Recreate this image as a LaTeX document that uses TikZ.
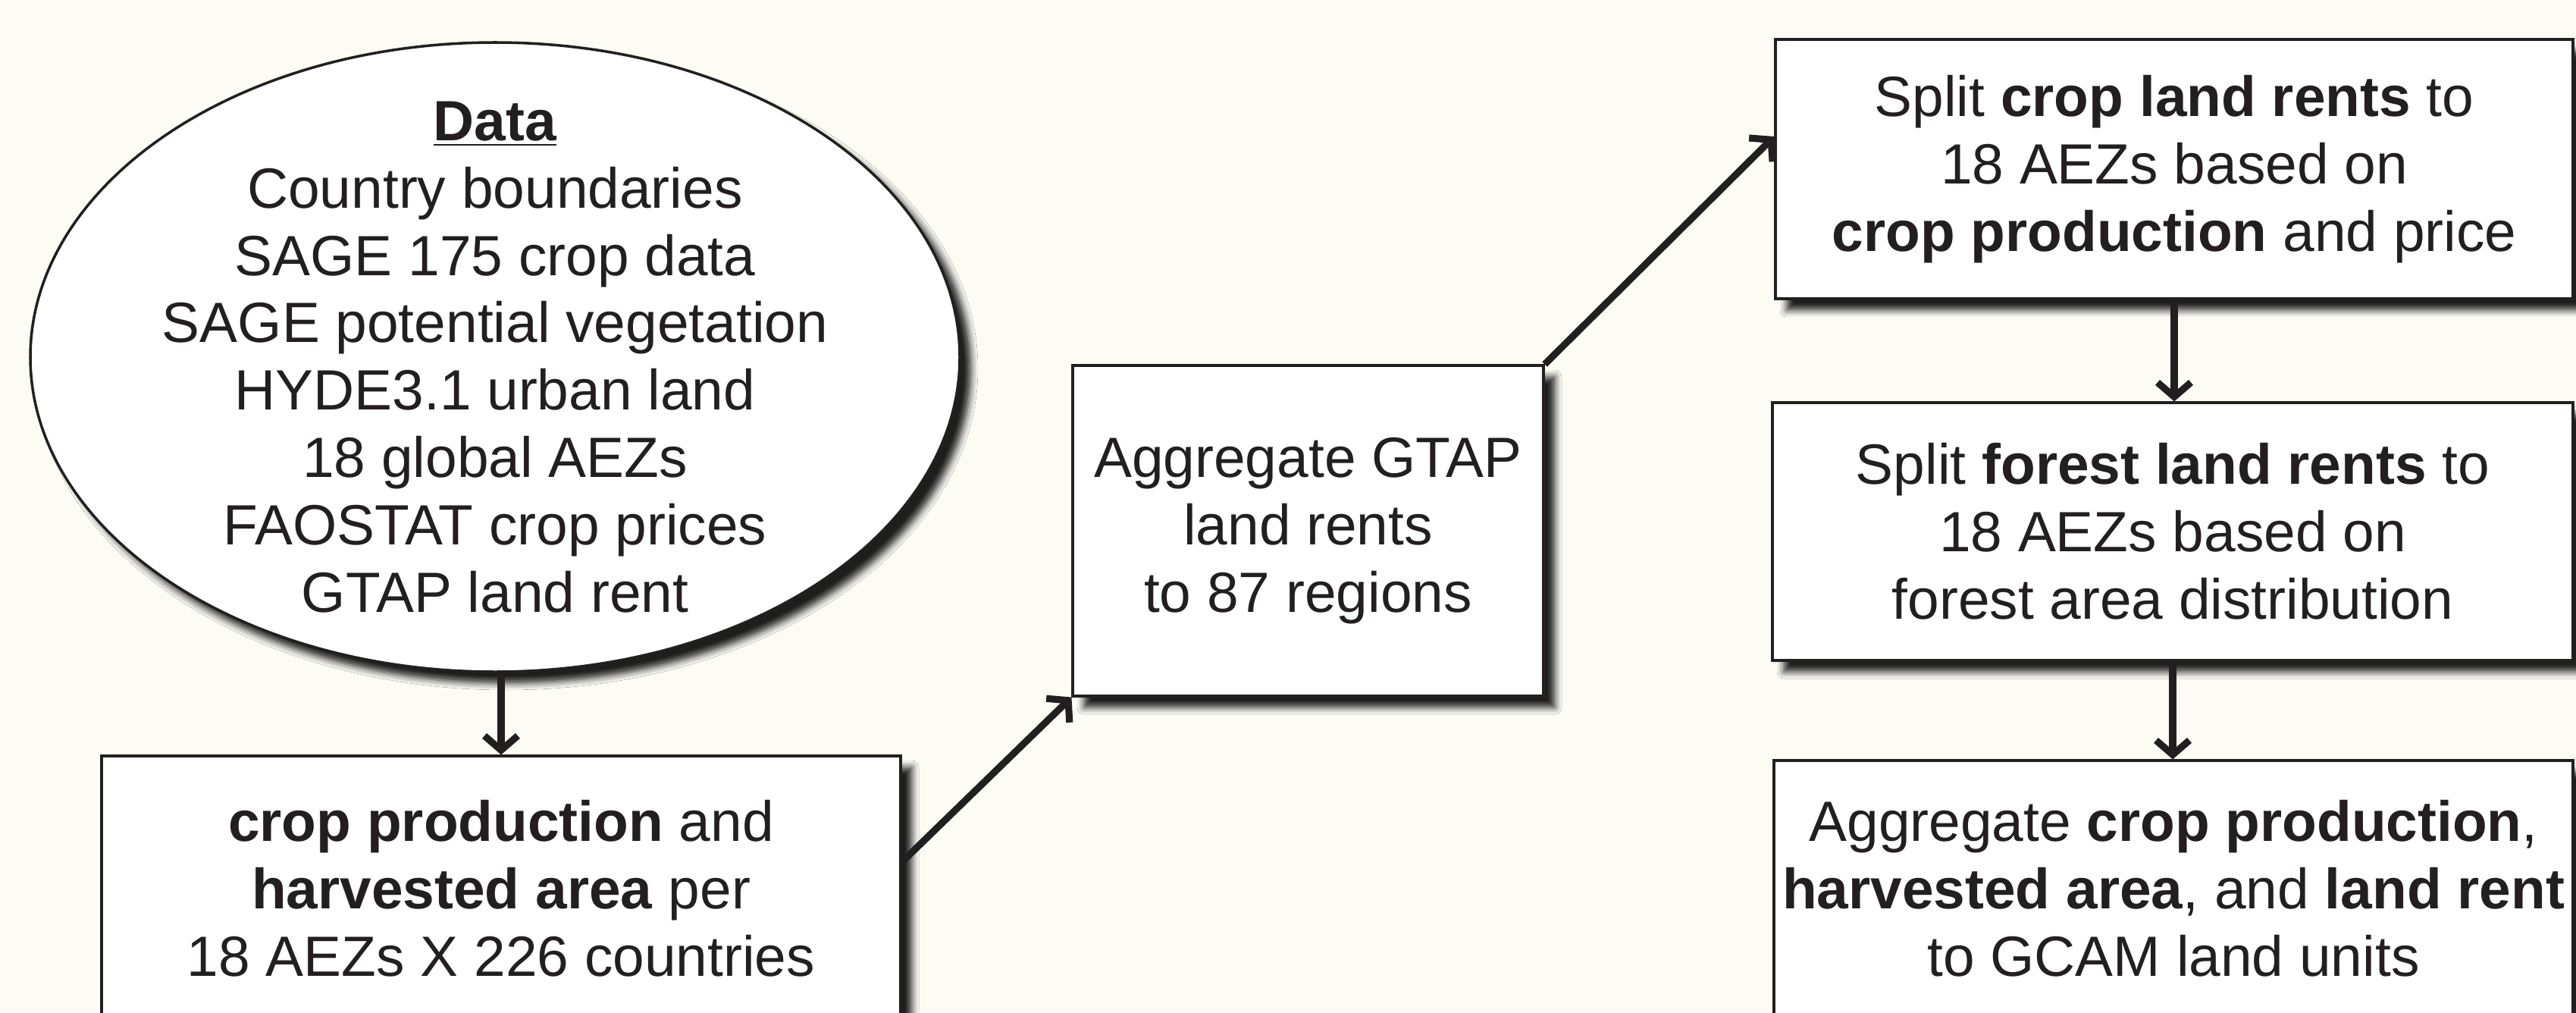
\documentclass[tikz,border=0pt]{standalone}
\usepackage{fontspec}
\setmainfont{Liberation Sans}
\usetikzlibrary{shapes.geometric,arrows.meta,shadows.blur}
\definecolor{paper}{RGB}{252,252,245}
\definecolor{ink}{RGB}{35,31,32}
\tikzset{
  shade/.style={blur shadow={shadow xshift=0.15cm,shadow yshift=-0.15cm,shadow blur radius=0.09cm,shadow opacity=88}},
  stepbox/.style={draw=ink,line width=0.9pt,fill=white,shade,inner sep=0pt,align=center,text=ink},
  flow/.style={draw=ink,line width=2.6pt,-{Straight Barb[length=0.19cm,width=0.44cm,line cap=butt,line join=miter]}}
}
\begin{document}
\begin{tikzpicture}[font=\fontsize{21.3}{25.3}\selectfont]
\useasboundingbox (0,0) rectangle (33.98,13.35);
\clip (0,0) rectangle (33.98,13.35);
\fill[paper] (0,0) rectangle (33.98,13.35);
% left column
\node[stepbox,ellipse,line width=1pt,minimum width=12.26cm,minimum height=8.3cm] (data) at (6.53,8.64) {};
\node[align=center,text=ink] (datatext) at (data.center)
  {\textbf{\underline{Data}}\\Country boundaries\\SAGE 175 crop data\\SAGE potential vegetation\\HYDE3.1 urban land\\18 global AEZs\\FAOSTAT crop prices\\GTAP land rent};
\node[stepbox,minimum width=10.54cm,minimum height=3.5cm] (crop) at (6.61,1.63)
  {\textbf{crop production} and\\\textbf{harvested area} per\\18 AEZs X 226 countries};
% middle
\node[stepbox,minimum width=6.21cm,minimum height=4.36cm] (agg) at (17.255,6.35)
  {Aggregate GTAP\\land rents\\to 87 regions};
% right column
\node[stepbox,minimum width=10.52cm,minimum height=3.42cm] (rone) at (28.68,11.12)
  {Split \textbf{crop land rents} to\\18 AEZs based on\\\textbf{crop production} and price};
\node[stepbox,minimum width=10.56cm,minimum height=3.4cm] (rtwo) at (28.66,6.34)
  {Split \textbf{forest land rents} to\\18 AEZs based on\\forest area distribution};
\node[stepbox,minimum width=10.54cm,minimum height=3.38cm] (rthree) at (28.67,1.63)
  {Aggregate \textbf{crop production},\\\textbf{harvested area}, and \textbf{land rent}\\to GCAM land units};
% arrows
\draw[flow] (crop.north |- data.south) -- (crop.north);
\draw[flow] ([yshift=0.35cm]crop.east) -- (agg.south west);
\draw[flow] (agg.north east) -- ([yshift=0.43cm]rone.west);
\draw[flow] (rone.south) -- (rone.south |- rtwo.north);
\draw[flow] (rtwo.south) -- (rtwo.south |- rthree.north);
\end{tikzpicture}
\end{document}
